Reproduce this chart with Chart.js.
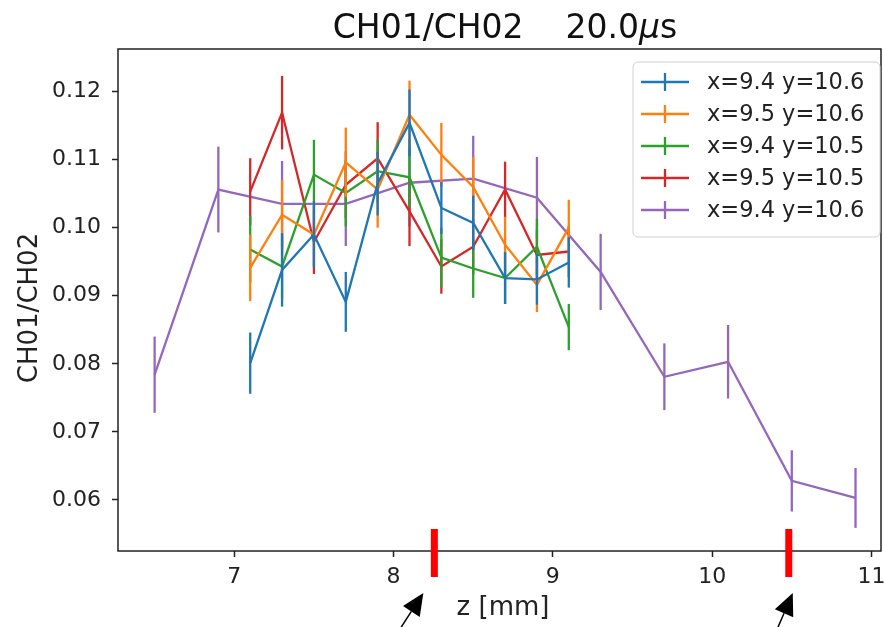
<!DOCTYPE html>
<html>
<head>
<meta charset="utf-8">
<script src="https://cdn.jsdelivr.net/npm/chart.js@4.4.0/dist/chart.umd.min.js"></script>
<style>
  body { margin: 0; background: #fff; }
  #wrap { width: 884px; height: 627px; }
</style>
</head>
<body>
<div id="wrap"><canvas id="chart" width="884" height="627"></canvas></div>
<script>
// z positions (mm)
const zScan = [7.1, 7.3, 7.5, 7.7, 7.9, 8.1, 8.3, 8.5, 8.7, 8.9, 9.1];
const zLong = [6.5, 6.9, 7.3, 7.7, 8.1, 8.5, 8.9, 9.3, 9.7, 10.1, 10.5, 10.9];

// CH01/CH02 ratio per position + errors
const blueVals = [0.0801, 0.0938, 0.0990, 0.0891, 0.1065, 0.1154, 0.1029, 0.1007, 0.0926, 0.0924, 0.0949];
const blueErr = [0.0045, 0.0054, 0.0049, 0.0044, 0.0047, 0.0049, 0.0038, 0.0040, 0.0038, 0.0037, 0.0037];
const orangeVals = [0.0941, 0.1019, 0.0990, 0.1096, 0.1056, 0.1166, 0.1107, 0.1060, 0.0975, 0.0916, 0.1000];
const orangeErr = [0.0049, 0.0051, 0.0046, 0.0051, 0.0056, 0.0050, 0.0047, 0.0044, 0.0041, 0.0040, 0.0041];
const greenVals = [0.0968, 0.0943, 0.1078, 0.1051, 0.1083, 0.1074, 0.0956, 0.0940, 0.0926, 0.0972, 0.0854];
const greenErr = [0.0049, 0.0047, 0.0051, 0.0049, 0.0046, 0.0044, 0.0044, 0.0043, 0.0038, 0.0041, 0.0034];
const redVals = [0.1053, 0.1169, 0.0979, 0.1063, 0.1102, 0.1024, 0.0943, 0.0972, 0.1056, 0.0960, 0.0965];
const redErr = [0.0049, 0.0054, 0.0047, 0.0049, 0.0053, 0.0051, 0.0040, 0.0041, 0.0041, 0.0037, 0.0038];
const purpleVals = [0.0784, 0.1056, 0.1035, 0.1035, 0.1066, 0.1072, 0.1044, 0.0935, 0.0781, 0.0803, 0.0628, 0.0603];
const purpleErr = [0.0056, 0.0063, 0.0063, 0.0062, 0.0064, 0.0063, 0.0060, 0.0056, 0.0049, 0.0054, 0.0045, 0.0044];

const seriesLabels = ["x=9.4 y=10.6", "x=9.5 y=10.6", "x=9.4 y=10.5", "x=9.5 y=10.5", "x=9.4 y=10.6"];
const seriesColors = ["#1f77b4", "#ff7f0e", "#2ca02c", "#d62728", "#9467bd"];

const xTicks = [7, 8, 9, 10, 11];
const yTicks = [0.06, 0.07, 0.08, 0.09, 0.10, 0.11, 0.12];

// red markers on the z axis
const markerZ = [8.256, 10.481];

const FONT = "'DejaVu Sans', sans-serif";

function toPoints(xs, ys) {
  return xs.map((x, i) => ({ x: x, y: ys[i] }));
}

const allSeries = [
  { z: zScan, v: blueVals, e: blueErr },
  { z: zScan, v: orangeVals, e: orangeErr },
  { z: zScan, v: greenVals, e: greenErr },
  { z: zScan, v: redVals, e: redErr },
  { z: zLong, v: purpleVals, e: purpleErr }
];

const datasets = allSeries.map((s, i) => ({
  label: seriesLabels[i],
  data: toPoints(s.z, s.v),
  errors: s.e,
  showLine: true,
  borderColor: seriesColors[i],
  backgroundColor: seriesColors[i],
  borderWidth: 2.3,
  pointRadius: 0,
  tension: 0
}));

// vertical error bars drawn right after each line
const errorBars = {
  id: "errorBars",
  afterDatasetDraw(chart, args) {
    const ds = chart.data.datasets[args.index];
    const xs = chart.scales.x, ys = chart.scales.y;
    const ctx = chart.ctx;
    ctx.save();
    ctx.strokeStyle = ds.borderColor;
    ctx.lineWidth = 2.3;
    ds.data.forEach((p, i) => {
      const px = xs.getPixelForValue(p.x);
      ctx.beginPath();
      ctx.moveTo(px, ys.getPixelForValue(p.y - ds.errors[i]));
      ctx.lineTo(px, ys.getPixelForValue(p.y + ds.errors[i]));
      ctx.stroke();
    });
    ctx.restore();
  }
};

// frame, title, axis labels, legend, markers and arrows
const decorations = {
  id: "decorations",
  afterDraw(chart) {
    const ctx = chart.ctx;
    const a = chart.chartArea;
    const xs = chart.scales.x;
    ctx.save();

    // box
    ctx.strokeStyle = "#222";
    ctx.lineWidth = 1.5;
    ctx.strokeRect(a.left, a.top, a.right - a.left, a.bottom - a.top);

    // title with italic mu
    ctx.fillStyle = "#111";
    ctx.textBaseline = "alphabetic";
    const t1 = "CH01/CH02    20.0", t2 = "\u03bc", t3 = "s";
    const tf = "33px " + FONT;
    ctx.font = tf;
    const w1 = ctx.measureText(t1).width, w3 = ctx.measureText(t3).width;
    ctx.font = "italic " + tf;
    const w2 = ctx.measureText(t2).width;
    let tx = 505 - (w1 + w2 + w3) / 2;
    const ty = 38;
    ctx.font = tf;
    ctx.fillText(t1, tx, ty);
    tx += w1;
    ctx.font = "italic " + tf;
    ctx.fillText(t2, tx, ty);
    tx += w2;
    ctx.font = tf;
    ctx.fillText(t3, tx, ty);

    // axis labels
    ctx.fillStyle = "#222";
    ctx.font = "26px " + FONT;
    ctx.textAlign = "center";
    ctx.fillText("z [mm]", 503, 615);
    ctx.save();
    ctx.translate(37, 308);
    ctx.rotate(-Math.PI / 2);
    ctx.fillText("CH01/CH02", 0, 0);
    ctx.restore();

    // legend
    const lx = 633, ly = 62, lw = 247, lh = 175;
    ctx.fillStyle = "rgba(255,255,255,0.85)";
    ctx.strokeStyle = "#d0d0d0";
    ctx.lineWidth = 1;
    ctx.beginPath();
    ctx.roundRect(lx, ly, lw, lh, 5);
    ctx.fill();
    ctx.stroke();
    ctx.font = "22.5px " + FONT;
    ctx.textAlign = "left";
    ctx.textBaseline = "middle";
    chart.data.datasets.forEach((ds, i) => {
      const ry = 82 + i * 32;
      ctx.strokeStyle = ds.borderColor;
      ctx.lineWidth = 2.3;
      ctx.beginPath();
      ctx.moveTo(641, ry);
      ctx.lineTo(689, ry);
      ctx.moveTo(665, ry - 9);
      ctx.lineTo(665, ry + 9);
      ctx.stroke();
      ctx.fillStyle = "#222";
      ctx.fillText(ds.label, 707, ry + 1);
    });

    // red markers
    ctx.fillStyle = "#ff0000";
    const mx = markerZ.map(z => xs.getPixelForValue(z));
    mx.forEach(x => ctx.fillRect(x - 3.5, 529, 7, 48));

    // arrows pointing at the markers
    const arrows = [
      { tip: [mx[0] - 11, 593], tail: [mx[0] - 35, 630] },
      { tip: [mx[1] + 4, 593], tail: [mx[1] - 12, 630] }
    ];
    ctx.fillStyle = "#000";
    ctx.strokeStyle = "#000";
    arrows.forEach(ar => {
      const dx = ar.tip[0] - ar.tail[0], dy = ar.tip[1] - ar.tail[1];
      const len = Math.hypot(dx, dy);
      const ux = dx / len, uy = dy / len;
      const hl = 22, hw = 10;
      const bx = ar.tip[0] - ux * hl, by = ar.tip[1] - uy * hl;
      ctx.lineWidth = 1.5;
      ctx.beginPath();
      ctx.moveTo(ar.tail[0], ar.tail[1]);
      ctx.lineTo(bx, by);
      ctx.stroke();
      ctx.beginPath();
      ctx.moveTo(ar.tip[0], ar.tip[1]);
      ctx.lineTo(bx - uy * hw, by + ux * hw);
      ctx.lineTo(bx + uy * hw, by - ux * hw);
      ctx.closePath();
      ctx.fill();
    });

    ctx.restore();
  }
};

new Chart(document.getElementById("chart"), {
  type: "scatter",
  data: { datasets: datasets },
  plugins: [errorBars, decorations],
  options: {
    responsive: false,
    animation: false,
    layout: { padding: { top: 49, right: 3, left: 0, bottom: 0 } },
    plugins: {
      legend: { display: false },
      title: { display: false },
      tooltip: { enabled: false }
    },
    scales: {
      x: {
        type: "linear",
        min: 6.27,
        max: 11.06,
        afterBuildTicks: s => { s.ticks = xTicks.map(v => ({ value: v })); },
        afterFit: s => { s.height = 76; s.paddingLeft = 0; s.paddingRight = 0; },
        grid: { drawOnChartArea: false, drawTicks: true, tickLength: 6, tickColor: "#222", tickWidth: 1.5 },
        border: { display: false },
        ticks: { color: "#222", font: { family: FONT, size: 22 }, padding: 7, maxRotation: 0 }
      },
      y: {
        type: "linear",
        min: 0.0525,
        max: 0.12625,
        afterBuildTicks: s => { s.ticks = yTicks.map(v => ({ value: v })); },
        afterFit: s => { s.width = 118; s.paddingTop = 0; s.paddingBottom = 0; },
        grid: { drawOnChartArea: false, drawTicks: true, tickLength: 6, tickColor: "#222", tickWidth: 1.5 },
        border: { display: false },
        ticks: {
          color: "#222",
          font: { family: FONT, size: 22 },
          padding: 11,
          callback: v => v.toFixed(2)
        }
      }
    }
  }
});
</script>
</body>
</html>
